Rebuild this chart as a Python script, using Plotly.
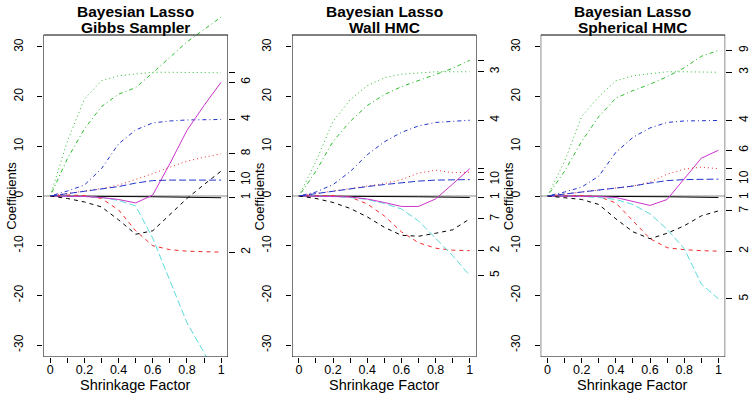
import plotly.graph_objects as go

# ---------------------------------------------------------------------------
# Data: coefficient paths of the 10 diabetes predictors along the shrinkage
# factor, for three samplers of the Bayesian lasso.
# ---------------------------------------------------------------------------
shrinkage = [0.0, 0.1, 0.2, 0.3, 0.4, 0.5, 0.6, 0.7, 0.8, 0.9, 1.0]
variable_labels = ["1", "2", "3", "4", "5", "6", "7", "8", "9", "10"]

gibbs_paths = [
    [0, 0, 0, -0.05, -0.1, -0.1, -0.15, -0.2, -0.25, -0.3, -0.35],
    [0, 0.2, 0.1, -0.5, -2.8, -7.0, -10.0, -10.8, -11.1, -11.2, -11.3],
    [0, 11.0, 19.5, 23.2, 24.2, 24.6, 24.9, 24.9, 24.9, 24.8, 24.8],
    [0, 1.0, 2.2, 5.5, 10.5, 13.3, 14.7, 15.1, 15.3, 15.4, 15.4],
    [0, 0, -0.1, -0.3, -0.9, -2.0, -8.5, -17.0, -25.5, -31.5, -38.0],
    [0, 0, -0.1, -0.3, -0.7, -1.4, 0.2, 6.5, 13.2, 18.2, 22.9],
    [0, -0.5, -1.2, -2.2, -4.8, -7.7, -7.0, -3.8, -0.5, 2.3, 5.0],
    [0, 0.5, 1.0, 1.5, 2.2, 3.3, 4.5, 5.8, 7.0, 7.8, 8.5],
    [0, 7.5, 13.5, 18.0, 20.5, 21.8, 24.8, 28.0, 31.0, 33.5, 36.0],
    [0, 0.5, 0.9, 1.4, 1.9, 2.6, 3.1, 3.2, 3.2, 3.2, 3.2],
]
wall_paths = [
    [0, 0, 0, 0, -0.05, -0.1, -0.1, -0.15, -0.2, -0.25, -0.3],
    [0, 0.1, 0.1, -0.2, -1.6, -4.0, -7.2, -9.4, -10.5, -10.9, -11.0],
    [0, 7.0, 15.0, 19.4, 22.2, 23.8, 24.5, 24.8, 25.0, 25.0, 25.0],
    [0, 0.8, 2.3, 4.9, 8.3, 10.9, 12.8, 14.1, 14.8, 15.1, 15.25],
    [0, 0, -0.1, -0.3, -0.7, -1.5, -2.6, -5.0, -8.5, -12.0, -16.0],
    [0, 0, -0.1, -0.2, -0.6, -1.3, -2.1, -2.1, -0.6, 2.4, 5.5],
    [0, -0.5, -1.3, -2.5, -4.2, -6.3, -7.9, -8.1, -7.5, -6.8, -4.6],
    [0, 0.5, 1.0, 1.5, 2.0, 2.5, 3.3, 4.6, 5.2, 4.7, 4.8],
    [0, 5.0, 11.0, 15.0, 18.2, 20.4, 22.0, 23.2, 24.4, 25.7, 27.3],
    [0, 0.5, 0.9, 1.4, 1.9, 2.3, 2.7, 3.0, 3.2, 3.3, 3.3],
]
spherical_paths = [
    [0, 0, 0, 0, -0.05, -0.1, -0.1, -0.15, -0.2, -0.25, -0.3],
    [0, 0.1, 0.1, -0.1, -1.4, -5.0, -8.6, -10.4, -10.8, -11.0, -11.1],
    [0, 7.0, 16.0, 20.0, 23.2, 24.2, 24.6, 25.0, 25.0, 24.9, 24.9],
    [0, 0.8, 1.8, 4.0, 8.8, 11.8, 13.7, 14.8, 15.1, 15.2, 15.2],
    [0, 0, -0.1, -0.3, -0.7, -1.7, -3.6, -6.7, -10.6, -17.7, -20.7],
    [0, 0, 0, -0.1, -0.3, -1.1, -1.9, -0.7, 3.5, 7.6, 9.2],
    [0, -0.3, -0.7, -1.7, -4.6, -7.2, -8.6, -7.5, -6.0, -4.0, -3.0],
    [0, 0.4, 0.8, 1.1, 1.5, 2.0, 2.8, 4.4, 5.4, 5.8, 5.5],
    [0, 5.0, 11.0, 16.0, 19.7, 21.2, 22.5, 24.0, 25.8, 28.1, 29.3],
    [0, 0.4, 0.8, 1.2, 1.6, 2.0, 2.6, 3.1, 3.3, 3.3, 3.4],
]

# right-hand labels that remain legible (others collide and are left blank)
gibbs_shown = ["6", "4", "8", "10", "1", "2"]
wall_shown = ["3", "4", "10", "1", "7", "2", "5"]
spherical_shown = ["9", "3", "4", "6", "10", "1", "7", "2", "5"]

panel_titles = [("Bayesian Lasso", "Gibbs Sampler"),
                ("Bayesian Lasso", "Wall HMC"),
                ("Bayesian Lasso", "Spherical HMC")]

x_tick_values = [0.0, 0.1, 0.2, 0.3, 0.4, 0.5, 0.6, 0.7, 0.8, 0.9, 1.0]
x_tick_text = ["0", "", "0.2", "", "0.4", "", "0.6", "", "0.8", "", "1"]
y_tick_values = [-30, -20, -10, 0, 10, 20, 30]
y_tick_text = ["-30", "-20", "-10", "0", "10", "20", "30"]

# ---------------------------------------------------------------------------
# Styling (R matplot defaults: colours 1:6, line types 1:5)
# ---------------------------------------------------------------------------
R_COLS = ["#000000", "#f02c2c", "#2cbb2c", "#2234cc", "#5cd9d9", "#cc33cc"]
R_LTYS = ["solid", "4px,4px", "1px,3px", "1px,3px,4px,3px", "7px,3px"]
FONT = "Liberation Sans, Arial, Helvetica, sans-serif"

W, H = 751, 394
PANEL_LEFT = [44, 296, 548]
PANEL_W = 187
BOX_TOP, BOX_BOT = 35, 357
X_LO, X_HI = -0.04, 1.04
Y_LO, Y_HI = -32.4, 32.4
px_per_unit = (BOX_BOT - BOX_TOP) / (Y_HI - Y_LO)
# let the y scale run above the frame so steep paths can leave the box upward
Y_TOP_EXT = Y_HI + (BOX_TOP - 1) / px_per_unit

fig = go.Figure()
layout = dict(
    width=W, height=H, margin=dict(l=0, r=0, t=0, b=0),
    paper_bgcolor="white", plot_bgcolor="rgba(0,0,0,0)",
    showlegend=False, font=dict(family=FONT, color="black"),
    shapes=[], annotations=[],
)

all_paths = [gibbs_paths, wall_paths, spherical_paths]
all_shown = [gibbs_shown, wall_shown, spherical_shown]

for p, paths in enumerate(all_paths):
    k = p + 1
    xa = "x" if k == 1 else f"x{k}"
    ya = "y" if k == 1 else f"y{k}"
    yr = f"y{k + 3}"
    x0 = PANEL_LEFT[p] / W
    x1 = (PANEL_LEFT[p] + PANEL_W) / W
    ydom = [(H - BOX_BOT) / H, (H - 1) / H]

    for j, path in enumerate(paths):
        fig.add_trace(go.Scatter(
            x=shrinkage, y=path, xaxis=xa, yaxis=ya, mode="lines",
            line=dict(color=R_COLS[j % 6], width=1, dash=R_LTYS[j % 5]),
            hoverinfo="skip", showlegend=False,
        ))

    # right axis: final coefficient of each predictor
    ends = [path[-1] for path in paths]
    r_vals, r_text = [], []
    for lab, v in zip(variable_labels, ends):
        if Y_LO <= v <= Y_HI:
            r_vals.append(v)
            r_text.append(lab if lab in all_shown[p] else "")
    # invisible anchor trace so the right-hand axis is rendered
    fig.add_trace(go.Scatter(
        x=[shrinkage[-1]] * len(r_vals), y=r_vals, xaxis=xa, yaxis=yr,
        mode="markers", marker=dict(opacity=0), hoverinfo="skip",
        showlegend=False,
    ))

    layout["xaxis" if k == 1 else f"xaxis{k}"] = dict(
        domain=[x0, x1], range=[X_LO, X_HI], anchor=ya,
        tickmode="array", tickvals=x_tick_values, ticktext=x_tick_text,
        ticks="outside", ticklen=5, tickcolor="black", tickwidth=1,
        ticklabelstandoff=-4,
        showline=False, showgrid=False, zeroline=False,
        tickfont=dict(family=FONT, size=12.5, color="black"),
    )
    layout["yaxis" if k == 1 else f"yaxis{k}"] = dict(
        domain=ydom, range=[Y_LO, Y_TOP_EXT], anchor=xa,
        tickmode="array", tickvals=y_tick_values, ticktext=y_tick_text,
        ticks="outside", ticklen=5, tickcolor="black", tickwidth=1,
        tickangle=-90, ticklabelstandoff=10,
        showline=False, showgrid=False, zeroline=False,
        tickfont=dict(family=FONT, size=12, color="black"),
    )
    layout[f"yaxis{k + 3}"] = dict(
        domain=ydom, range=[Y_LO, Y_TOP_EXT], anchor=xa, side="right",
        overlaying=ya, tickmode="array", tickvals=r_vals, ticktext=r_text,
        ticks="outside", ticklen=6, tickcolor="black", tickwidth=1,
        tickangle=-90, ticklabelstandoff=1,
        showline=False, showgrid=False, zeroline=False,
        tickfont=dict(family=FONT, size=12, color="black"),
    )

    # reference line at zero and the plot frame
    layout["shapes"].append(dict(
        type="line", xref=xa, yref=ya, x0=X_LO, x1=X_HI, y0=0, y1=0,
        line=dict(color="#8a8a8a", width=1), layer="below"))
    layout["shapes"].append(dict(
        type="rect", xref=xa, yref=ya, x0=X_LO, x1=X_HI, y0=Y_LO, y1=Y_HI,
        line=dict(color="black", width=1), fillcolor="rgba(0,0,0,0)"))

    cx = (PANEL_LEFT[p] + PANEL_W / 2) / W
    t1, t2 = panel_titles[p]
    for txt, ypx in ((t1, 12), (t2, 28)):
        layout["annotations"].append(dict(
            text=f"<b>{txt}</b>", xref="paper", yref="paper", x=cx,
            y=1 - ypx / H, xanchor="center", yanchor="middle",
            showarrow=False, font=dict(family=FONT, size=15.5, color="black")))
    layout["annotations"].append(dict(
        text="Shrinkage Factor", xref="paper", yref="paper", x=cx,
        y=1 - 385 / H, xanchor="center", yanchor="middle", showarrow=False,
        font=dict(family=FONT, size=14.5, color="black")))
    layout["annotations"].append(dict(
        text="Coefficients", xref="paper", yref="paper",
        x=(PANEL_LEFT[p] - 32) / W, y=1 - 196 / H, textangle=-90,
        xanchor="center", yanchor="middle", showarrow=False,
        font=dict(family=FONT, size=13, color="black")))

fig.update_layout(**layout)
fig.write_html("out.html")
